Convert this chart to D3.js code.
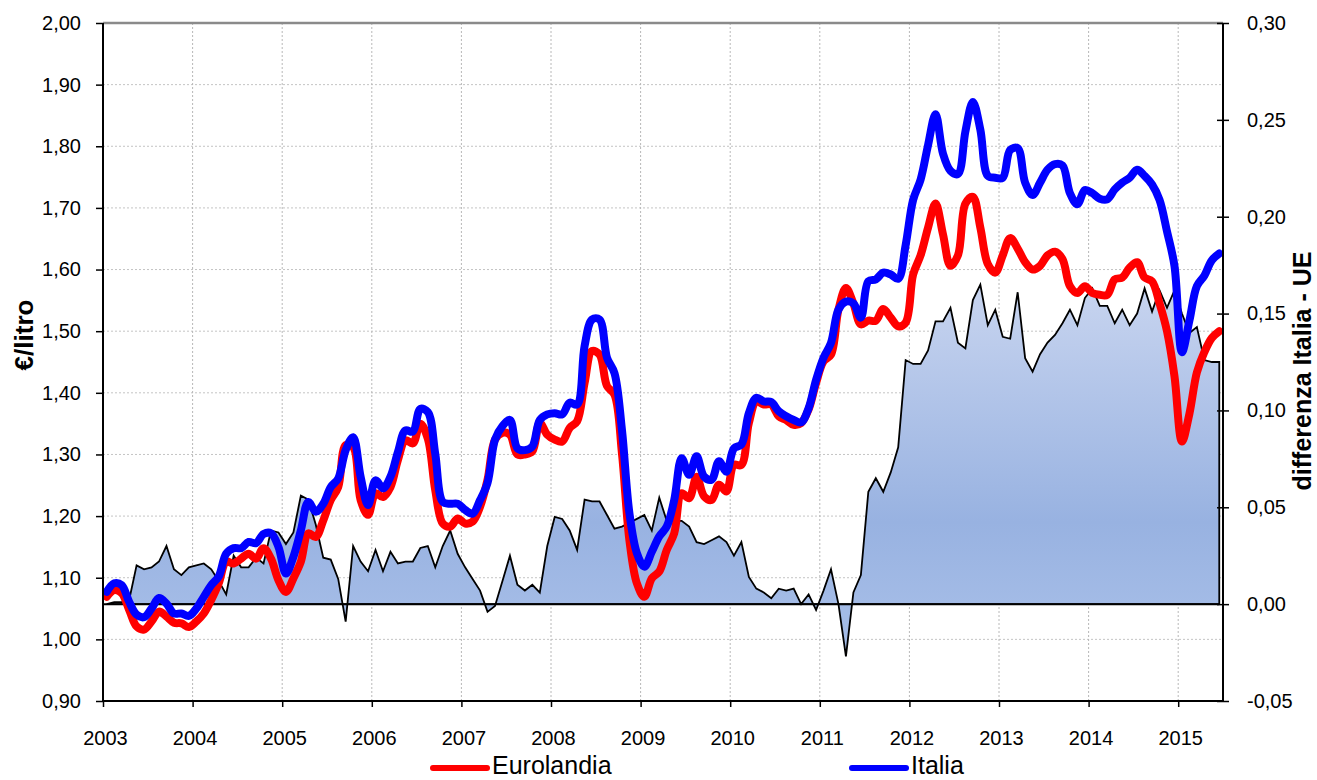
<!DOCTYPE html>
<html>
<head>
<meta charset="utf-8">
<script src="https://cdn.jsdelivr.net/npm/d3@7"></script>
<style>
  body { margin: 0; background: #fff; }
  text { font-family: "Liberation Sans", Arial, sans-serif; fill: #000; }
</style>
</head>
<body>
<div id="chart"></div>
<script>
// monthly prices, Jan 2003 - Jun 2015 (euro / litre)
var eurolandia = [
  1.069, 1.080, 1.075, 1.048, 1.021, 1.016, 1.029, 1.045, 1.037, 1.027, 1.026, 1.020,
  1.029, 1.042, 1.064, 1.091, 1.126, 1.123, 1.131, 1.139, 1.131, 1.148, 1.131, 1.096,
  1.077, 1.099, 1.126, 1.172, 1.166, 1.193, 1.226, 1.247, 1.315, 1.312, 1.226, 1.202,
  1.237, 1.231, 1.247, 1.291, 1.323, 1.318, 1.350, 1.326, 1.242, 1.188, 1.183, 1.196,
  1.188, 1.191, 1.215, 1.259, 1.324, 1.335, 1.332, 1.300, 1.300, 1.305, 1.351, 1.332,
  1.324, 1.321, 1.343, 1.354, 1.416, 1.468, 1.462, 1.411, 1.397, 1.302, 1.161, 1.091,
  1.069, 1.099, 1.110, 1.145, 1.172, 1.237, 1.229, 1.264, 1.232, 1.226, 1.251, 1.240,
  1.283, 1.283, 1.351, 1.386, 1.381, 1.381, 1.362, 1.356, 1.348, 1.351, 1.373, 1.416,
  1.451, 1.462, 1.535, 1.570, 1.545, 1.511, 1.517, 1.517, 1.536, 1.522, 1.508, 1.514,
  1.592, 1.623, 1.668, 1.707, 1.657, 1.606, 1.623, 1.707, 1.718, 1.668, 1.609, 1.595,
  1.623, 1.651, 1.634, 1.612, 1.600, 1.606, 1.623, 1.629, 1.617, 1.573, 1.562, 1.573,
  1.562, 1.559, 1.559, 1.584, 1.587, 1.603, 1.612, 1.587, 1.581, 1.545, 1.500, 1.427,
  1.321, 1.366, 1.433, 1.466, 1.489, 1.500
];
var italia = [
  1.077, 1.091, 1.088, 1.061, 1.040, 1.036, 1.050, 1.067, 1.058, 1.042, 1.042, 1.038,
  1.050, 1.069, 1.088, 1.102, 1.139, 1.148, 1.148, 1.158, 1.156, 1.171, 1.172, 1.150,
  1.107, 1.134, 1.177, 1.223, 1.207, 1.220, 1.247, 1.261, 1.307, 1.328, 1.264, 1.218,
  1.258, 1.245, 1.264, 1.304, 1.339, 1.337, 1.374, 1.369, 1.301, 1.223, 1.220, 1.220,
  1.210, 1.204, 1.226, 1.254, 1.324, 1.346, 1.356, 1.310, 1.307, 1.313, 1.356, 1.365,
  1.367, 1.365, 1.384, 1.381, 1.476, 1.519, 1.519, 1.457, 1.432, 1.340, 1.205, 1.140,
  1.118, 1.142, 1.167, 1.183, 1.226, 1.294, 1.267, 1.297, 1.264, 1.259, 1.289, 1.272,
  1.310, 1.316, 1.367, 1.392, 1.386, 1.385, 1.370, 1.362, 1.356, 1.352, 1.375, 1.421,
  1.457, 1.481, 1.535, 1.548, 1.545, 1.522, 1.581, 1.584, 1.595, 1.592, 1.585, 1.640,
  1.713, 1.746, 1.802, 1.852, 1.788, 1.760, 1.755, 1.824, 1.872, 1.827, 1.752, 1.749,
  1.749, 1.794, 1.797, 1.741, 1.721, 1.741, 1.762, 1.771, 1.769, 1.724, 1.706, 1.729,
  1.724, 1.715, 1.714, 1.730, 1.741, 1.749, 1.762, 1.752, 1.738, 1.713, 1.662, 1.606,
  1.466, 1.517, 1.573, 1.590, 1.615, 1.626
];
// differenza Italia - UE (right axis)
var differenza = [
  0.000, 0.001, 0.001, 0.002, 0.020, 0.018, 0.019, 0.022, 0.030, 0.018, 0.015, 0.019,
  0.020, 0.021, 0.018, 0.012, 0.005, 0.025, 0.019, 0.019, 0.024, 0.021, 0.038, 0.037,
  0.031, 0.037, 0.056, 0.054, 0.041, 0.024, 0.023, 0.013, -0.009, 0.030, 0.022, 0.017,
  0.028, 0.017, 0.027, 0.021, 0.022, 0.022, 0.029, 0.030, 0.019, 0.030, 0.038, 0.026,
  0.019, 0.013, 0.007, -0.004, -0.001, 0.012, 0.025, 0.010, 0.007, 0.010, 0.006, 0.030,
  0.045, 0.044, 0.038, 0.028, 0.054, 0.053, 0.053, 0.046, 0.039, 0.040, 0.042, 0.044,
  0.046, 0.038, 0.055, 0.043, 0.043, 0.043, 0.040, 0.032, 0.031, 0.033, 0.035, 0.032,
  0.025, 0.032, 0.014, 0.008, 0.006, 0.003, 0.008, 0.007, 0.008, 0.000, 0.005, -0.003,
  0.007, 0.018, 0.000, -0.027, 0.006, 0.015, 0.058, 0.065, 0.058, 0.068, 0.081, 0.126,
  0.124, 0.124, 0.131, 0.146, 0.146, 0.153, 0.135, 0.132, 0.157, 0.165, 0.144, 0.152,
  0.138, 0.137, 0.161, 0.127, 0.120, 0.129, 0.135, 0.139, 0.145, 0.152, 0.144, 0.158,
  0.163, 0.154, 0.154, 0.145, 0.152, 0.144, 0.150, 0.163, 0.151, 0.162, 0.153, 0.162,
  0.150, 0.140, 0.143, 0.126, 0.125, 0.125
];
var years = [2003, 2004, 2005, 2006, 2007, 2008, 2009, 2010, 2011, 2012, 2013, 2014, 2015];
var leftTicks = [0.90, 1.00, 1.10, 1.20, 1.30, 1.40, 1.50, 1.60, 1.70, 1.80, 1.90, 2.00];
var rightTicks = [-0.05, 0.00, 0.05, 0.10, 0.15, 0.20, 0.25, 0.30];

var width = 1317, height = 780;
var plot = { left: 103, right: 1223, top: 23, bottom: 701 };
var nMonths = 150;

// scales
var x = d3.scaleLinear().domain([0, nMonths]).range([plot.left, plot.right]);
var yL = d3.scaleLinear().domain([0.90, 2.00]).range([plot.bottom, plot.top]);
var yR = d3.scaleLinear().domain([-0.05, 0.30]).range([plot.bottom, plot.top]);
var xm = function(i) { return x(i + 0.5); };   // points sit in the middle of each month

var itLocale = d3.formatLocale({ decimal: ",", thousands: ".", grouping: [3], currency: ["€", ""], minus: "-" });
var fmt = itLocale.format(".2f");

var svg = d3.select("#chart").append("svg")
    .attr("width", width)
    .attr("height", height);

svg.append("rect").attr("width", width).attr("height", height).attr("fill", "#fff");

// gradient for the area
var defs = svg.append("defs");
var grad = defs.append("linearGradient")
    .attr("id", "areaGrad")
    .attr("gradientUnits", "userSpaceOnUse")
    .attr("x1", 0).attr("x2", 0)
    .attr("y1", yR(0.17)).attr("y2", yR(0));
grad.append("stop").attr("offset", "0%").attr("stop-color", "#cad6f0");
grad.append("stop").attr("offset", "75%").attr("stop-color", "#98b2e1");
grad.append("stop").attr("offset", "100%").attr("stop-color", "#a3bbe6");

// grid
var grid = svg.append("g");
grid.selectAll("line.h")
    .data(leftTicks.slice(1, -1))
    .enter().append("line")
    .attr("x1", plot.left).attr("x2", plot.right)
    .attr("y1", function(d) { return yL(d); })
    .attr("y2", function(d) { return yL(d); })
    .attr("stroke", "#c4c4c4")
    .attr("stroke-dasharray", "2,2");
grid.selectAll("line.v")
    .data(years.slice(1))
    .enter().append("line")
    .attr("x1", function(d, i) { return x((i + 1) * 12); })
    .attr("x2", function(d, i) { return x((i + 1) * 12); })
    .attr("y1", plot.top).attr("y2", plot.bottom)
    .attr("stroke", "#b8b8b8")
    .attr("stroke-dasharray", "2,2");

// differenza area
var area = d3.area()
    .x(function(d, i) { return xm(i); })
    .y0(yR(0))
    .y1(function(d) { return yR(d); });

svg.append("path")
    .datum(differenza)
    .attr("d", area)
    .attr("fill", "url(#areaGrad)")
    .attr("stroke", "#000")
    .attr("stroke-width", 1.8)
    .attr("stroke-linejoin", "miter");

svg.append("line")
    .attr("x1", plot.left).attr("x2", xm(nMonths - 1))
    .attr("y1", yR(0)).attr("y2", yR(0))
    .attr("stroke", "#000")
    .attr("stroke-width", 2);

// price lines
var line = d3.line()
    .x(function(d, i) { return xm(i); })
    .y(function(d) { return yL(d); })
    .curve(d3.curveCatmullRom);

svg.append("path")
    .datum(eurolandia)
    .attr("d", line)
    .attr("fill", "none")
    .attr("stroke", "#ff0000")
    .attr("stroke-width", 8)
    .attr("stroke-linejoin", "round")
    .attr("stroke-linecap", "round");

svg.append("path")
    .datum(italia)
    .attr("d", line)
    .attr("fill", "none")
    .attr("stroke", "#0000ff")
    .attr("stroke-width", 8)
    .attr("stroke-linejoin", "round")
    .attr("stroke-linecap", "round");

// frame
svg.append("line")
    .attr("x1", plot.left).attr("x2", plot.right)
    .attr("y1", plot.top).attr("y2", plot.top)
    .attr("stroke", "#8a8a8a").attr("stroke-width", 2.5);

// left axis
var leftAxis = svg.append("g")
    .attr("transform", "translate(" + plot.left + ",0)")
    .call(d3.axisLeft(yL).tickValues(leftTicks).tickFormat(fmt).tickSize(7).tickPadding(15));
leftAxis.select(".domain").remove();
leftAxis.selectAll(".tick line").attr("stroke", "#000").attr("stroke-width", 1.5);
leftAxis.selectAll("text").style("font-size", "20px");
svg.append("line")
    .attr("x1", plot.left).attr("x2", plot.left)
    .attr("y1", plot.top).attr("y2", plot.bottom)
    .attr("stroke", "#000").attr("stroke-width", 2);

// right axis
var rightAxis = svg.append("g")
    .attr("transform", "translate(" + plot.right + ",0)")
    .call(d3.axisRight(yR).tickValues(rightTicks).tickFormat(fmt).tickSize(6).tickPadding(18));
rightAxis.select(".domain").remove();
rightAxis.selectAll(".tick line").attr("x1", -6).attr("stroke", "#000").attr("stroke-width", 1.5);
rightAxis.selectAll("text").style("font-size", "20px");
svg.append("line")
    .attr("x1", plot.right).attr("x2", plot.right)
    .attr("y1", plot.top).attr("y2", plot.bottom)
    .attr("stroke", "#000").attr("stroke-width", 2);

// bottom axis
var bottomAxis = svg.append("g")
    .attr("transform", "translate(0," + plot.bottom + ")")
    .call(d3.axisBottom(x)
        .tickValues(years.map(function(d, i) { return i * 12; }))
        .tickFormat(function(d) { return years[d / 12]; })
        .tickSize(6));
bottomAxis.select(".domain").remove();
bottomAxis.selectAll(".tick line").attr("stroke", "#000").attr("stroke-width", 1.5);
bottomAxis.selectAll("text")
    .attr("x", 2).attr("y", 44).attr("dy", null)
    .style("font-size", "20px");
svg.append("line")
    .attr("x1", plot.left).attr("x2", plot.right)
    .attr("y1", plot.bottom).attr("y2", plot.bottom)
    .attr("stroke", "#000").attr("stroke-width", 2);

svg.selectAll(".tick text").attr("fill", "#000");

// axis titles
svg.append("text")
    .attr("transform", "translate(33,335) rotate(-90)")
    .attr("text-anchor", "middle")
    .style("font-size", "26px")
    .style("font-weight", "bold")
    .text("€/litro");

svg.append("text")
    .attr("transform", "translate(1311,371) rotate(-90)")
    .attr("text-anchor", "middle")
    .style("font-size", "25px")
    .style("font-weight", "bold")
    .text("differenza Italia - UE");

// legend
var legendItems = [
    { name: "Eurolandia", color: "#ff0000", x: 433 },
    { name: "Italia", color: "#0000ff", x: 852 }
];
var legend = svg.selectAll("g.legend")
    .data(legendItems)
    .enter().append("g")
    .attr("transform", function(d) { return "translate(" + d.x + ",768)"; });
legend.append("line")
    .attr("x1", 0).attr("x2", 54)
    .attr("stroke", function(d) { return d.color; })
    .attr("stroke-width", 6)
    .attr("stroke-linecap", "round");
legend.append("text")
    .attr("x", 59).attr("y", 6)
    .style("font-size", "25px")
    .text(function(d) { return d.name; });
</script>
</body>
</html>
